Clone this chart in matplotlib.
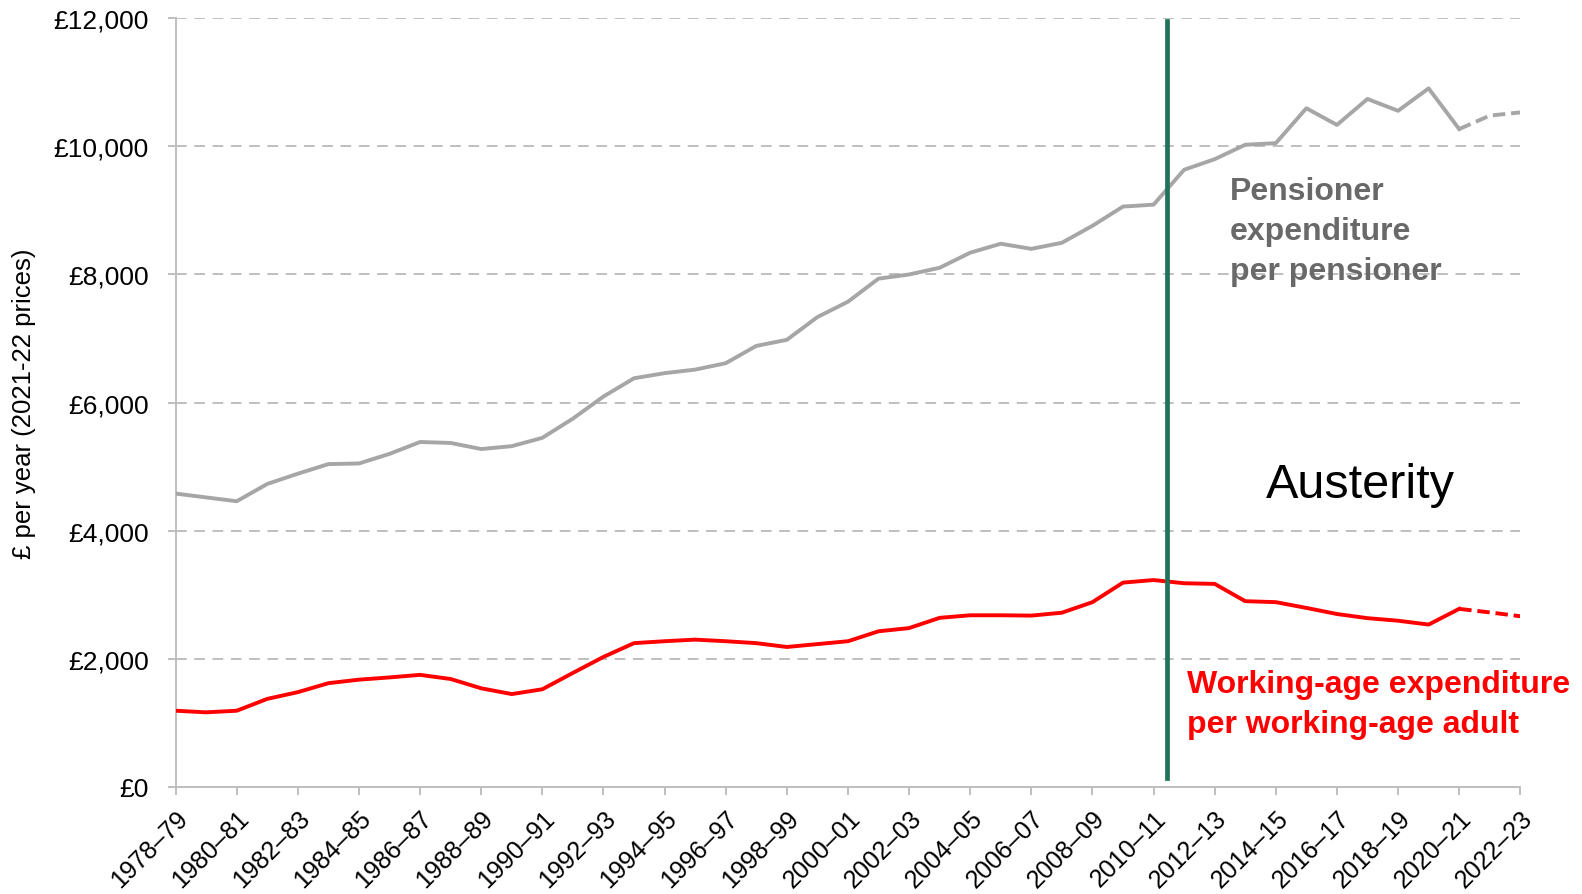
import numpy as np
import matplotlib
matplotlib.use("Agg")
import matplotlib.pyplot as plt

plt.rcParams['font.family'] = ['Liberation Sans', 'DejaVu Sans']

years = ["1978–79", "1979–80", "1980–81", "1981–82", "1982–83", "1983–84",
         "1984–85", "1985–86", "1986–87", "1987–88", "1988–89", "1989–90",
         "1990–91", "1991–92", "1992–93", "1993–94", "1994–95", "1995–96",
         "1996–97", "1997–98", "1998–99", "1999–00", "2000–01", "2001–02",
         "2002–03", "2003–04", "2004–05", "2005–06", "2006–07", "2007–08",
         "2008–09", "2009–10", "2010–11", "2011–12", "2012–13", "2013–14",
         "2014–15", "2015–16", "2016–17", "2017–18", "2018–19", "2019–20",
         "2020–21", "2021–22", "2022–23"]

# £ per year, 2021-22 prices
pensioner = [4580, 4520, 4460, 4730, 4890, 5040, 5050, 5200, 5385, 5370,
             5275, 5320, 5450, 5750, 6095, 6380, 6460, 6515, 6615, 6885,
             6980, 7335, 7575, 7935, 8000, 8105, 8340, 8480, 8400, 8495,
             8760, 9060, 9090, 9635, 9800, 10025, 10050, 10595, 10335, 10740,
             10555, 10905, 10270, 10480, 10530]
working_age = [1190, 1165, 1190, 1375, 1480, 1620, 1675, 1710, 1750, 1685,
               1540, 1450, 1525, 1780, 2030, 2245, 2275, 2300, 2275, 2245,
               2185, 2230, 2275, 2430, 2480, 2640, 2680, 2680, 2675, 2720,
               2885, 3190, 3230, 3180, 3170, 2900, 2885, 2795, 2700, 2635,
               2595, 2535, 2780, 2725, 2665]

n_actual = 43          # last outturn is 2020-21, rest are forecasts (dashed)
austerity_x = 32.45    # green marker, just after 2010-11
yticks = [0, 2000, 4000, 6000, 8000, 10000, 12000]
ytick_labels = ["£0", "£2,000", "£4,000", "£6,000", "£8,000", "£10,000", "£12,000"]

GRAY = "#A6A6A6"
RED = "#FF0000"
GREEN = "#20735A"
AXIS = "#BFBFBF"
TEXT_GRAY = "#696969"

fig = plt.figure(figsize=(15.82, 8.95), dpi=100)
ax = fig.add_axes([0.111, 0.1196, 0.850, 0.8589])

x = np.arange(len(years))
dash = (0, (3.2, 1.5))
ax.plot(x[:n_actual], pensioner[:n_actual], color=GRAY, lw=2.8, zorder=3)
ax.plot(x[n_actual - 1:], pensioner[n_actual - 1:], color=GRAY, lw=2.8,
        ls=dash, zorder=3)
ax.plot(x[:n_actual], working_age[:n_actual], color=RED, lw=2.8, zorder=3)
ax.plot(x[n_actual - 1:], working_age[n_actual - 1:], color=RED, lw=2.8,
        ls=dash, zorder=3)

ax.plot([austerity_x, austerity_x], [140, 11950], color=GREEN, lw=3.4, zorder=4)

ax.set_xlim(0, len(years) - 1)
ax.set_ylim(0, 12000)
ax.set_yticks(yticks)
ax.set_yticklabels(ytick_labels, fontsize=19)
ax.set_xticks(x[::2])
ax.set_xticklabels(years[::2], rotation=45, ha="right", rotation_mode="anchor",
                   fontsize=18)
ax.tick_params(axis="both", colors=AXIS, labelcolor="black", length=5.5, width=1.4)
ax.tick_params(axis="x", pad=8)
ax.tick_params(axis="y", pad=14)

ax.grid(axis="y", color=AXIS, ls=(0, (5.5, 3.9)), lw=1.4, zorder=0)
for side in ["top", "right"]:
    ax.spines[side].set_visible(False)
for side in ["left", "bottom"]:
    ax.spines[side].set_color(AXIS)
    ax.spines[side].set_linewidth(1.4)

ax.set_ylabel("£ per year (2021-22 prices)", fontsize=18.5)
ax.yaxis.set_label_coords(-0.104, 0.5)

ann = dict(fontsize=23, fontweight="bold", va="baseline", ha="left")
ax.text(34.5, 9180, "Pensioner", color=TEXT_GRAY, **ann)
ax.text(34.5, 8555, "expenditure", color=TEXT_GRAY, **ann)
ax.text(34.5, 7930, "per pensioner", color=TEXT_GRAY, **ann)
ax.text(35.67, 4522, "Austerity", color="black", fontsize=35, va="baseline",
        ha="left")
ax.text(33.08, 1488, "Working-age expenditure", color=RED, **ann)
ax.text(33.08, 863, "per working-age adult", color=RED, **ann)

fig.savefig("out.png", dpi=100)
